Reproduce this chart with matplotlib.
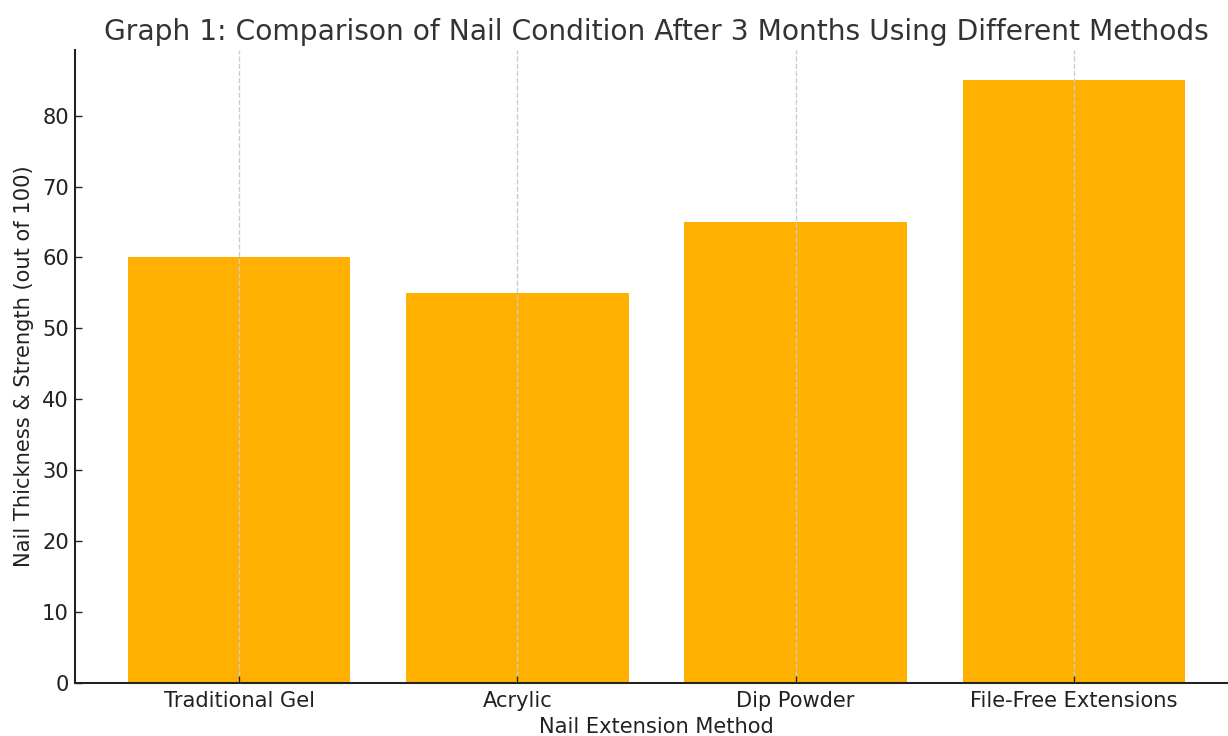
import matplotlib

matplotlib.use("Agg")
import matplotlib.pyplot as plt

methods = ["Traditional Gel", "Acrylic", "Dip Powder", "File-Free Extensions"]
scores = [60, 55, 65, 85]

W, H, DPI = 1228, 736, 122.8
fig = plt.figure(figsize=(W / DPI, H / DPI), dpi=DPI)
# axes placed in pixels; right edge runs slightly past the figure like the reference
left, right, top, bottom = 75, 1238, 50, 683
ax = fig.add_axes([left / W, (H - bottom) / H, (right - left) / W, (bottom - top) / H])

ax.bar(methods, scores, color="#FFB000", width=0.8, zorder=2)
ax.grid(axis="x", linestyle="--", color="#cccccc", linewidth=0.8, zorder=3)
ax.set_axisbelow(False)
for s in ("top", "right"):
    ax.spines[s].set_visible(False)
for s in ("left", "bottom"):
    ax.spines[s].set_color("#222222")
    ax.spines[s].set_linewidth(1.2)

ax.tick_params(labelsize=12.3, colors="#222222", direction="in", length=4, pad=3.5)
ax.tick_params(axis="x", pad=4.5)
ax.set_xlabel("Nail Extension Method", fontsize=12.3, color="#222222", labelpad=4)
ax.set_ylabel("Nail Thickness & Strength (out of 100)", fontsize=12.3, color="#222222",
              labelpad=4.5)
ax.set_title("Graph 1: Comparison of Nail Condition After 3 Months Using Different Methods",
             fontsize=16.5, color="#333333", pad=6)

fig.savefig("out.png", dpi=DPI)
